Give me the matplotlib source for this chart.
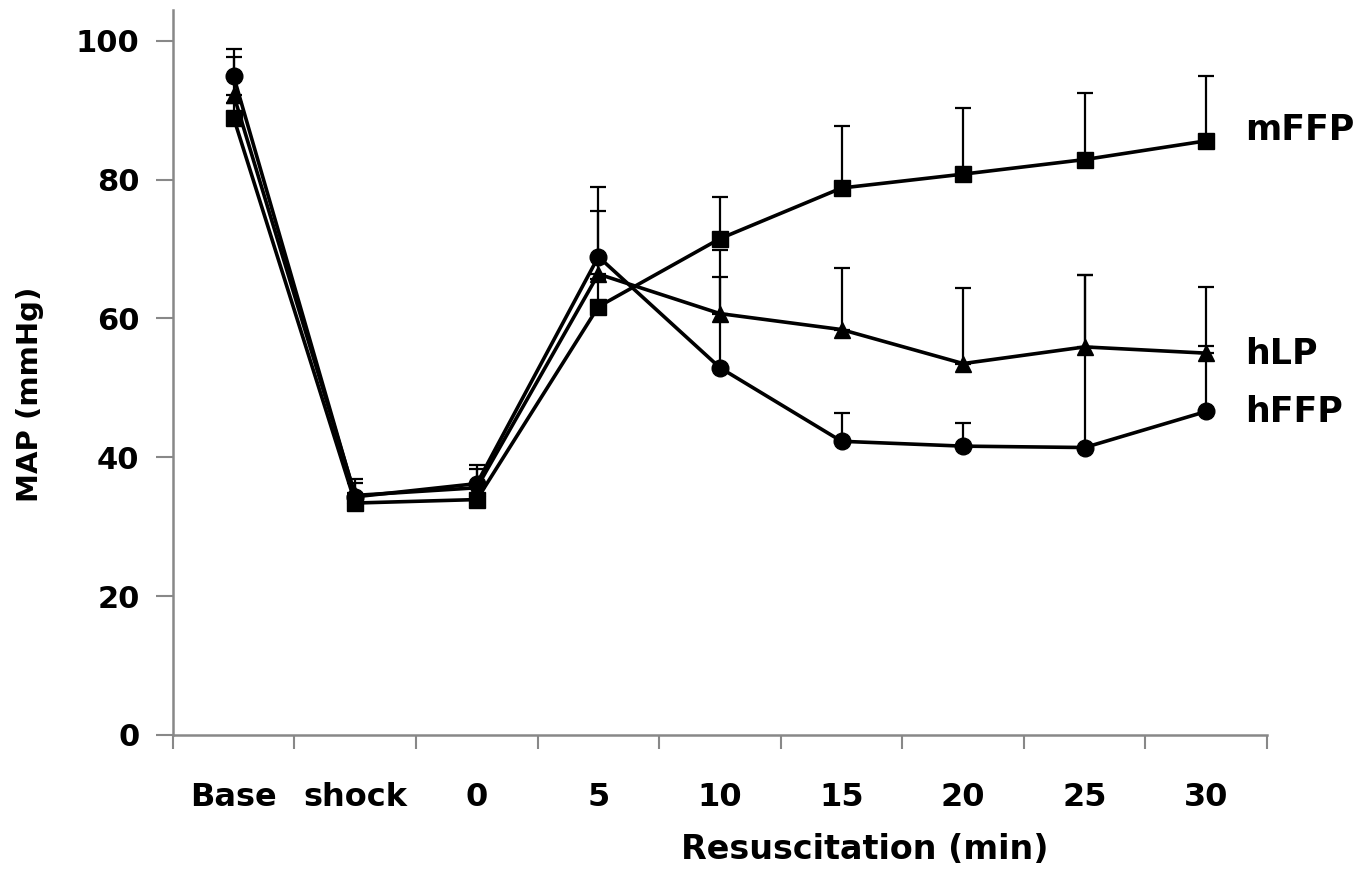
import numpy as np
import matplotlib
matplotlib.use("Agg")
import matplotlib.pyplot as plt

# time points
labels = ["Base", "shock", "0", "5", "10", "15", "20", "25", "30"]

# mean arterial pressure (mmHg)
hFFP = [94.9, 34.3, 36.2, 68.9, 52.9, 42.3, 41.6, 41.4, 46.6]
hLP = [92.2, 34.5, 35.6, 66.4, 60.7, 58.4, 53.5, 55.9, 55.0]
mFFP = [88.9, 33.4, 33.9, 61.7, 71.5, 78.8, 80.8, 82.9, 85.6]

# upper error bars
hFFP_err = [4.0, 2.6, 2.7, 10.0, 13.1, 4.1, 3.4, 24.9, 9.5]
hLP_err = [5.5, 1.8, 2.7, 9.1, 9.2, 8.9, 10.9, 10.4, 9.6]
mFFP_err = [2.1, 1.5, 2.0, 4.0, 6.0, 9.0, 9.6, 9.6, 9.4]

series = [("mFFP", mFFP, mFFP_err, "s", 87.2),
          ("hLP", hLP, hLP_err, "^", 54.9),
          ("hFFP", hFFP, hFFP_err, "o", 46.5)]

plt.rcParams["font.family"] = "DejaVu Sans"
plt.rcParams["font.weight"] = "bold"

fig = plt.figure(figsize=(13.72, 8.8), dpi=100)
ax = fig.add_axes([0.126, 0.165, 0.7975, 0.824])

x = np.arange(len(labels))
for name, vals, err, mk, ty in series:
    ax.errorbar(x, vals, yerr=[np.zeros(len(err)), err], color="black",
                lw=2.6, marker=mk, markersize=12, elinewidth=1.6,
                capsize=6, capthick=1.6, clip_on=False)
    ax.text(8.32, ty, name, fontsize=25, fontweight="bold", va="center", ha="left")

ax.set_xlim(-0.5, 8.5)
ax.set_ylim(0, 104.5)
ax.set_yticks([0, 20, 40, 60, 80, 100])
ax.set_xticks(np.arange(-0.5, 9, 1))
ax.set_xticklabels([])
ax.set_xticks(x, minor=True)
ax.set_xticklabels(labels, minor=True)
ax.tick_params(axis="x", which="minor", length=0, labelsize=23, pad=34)
ax.tick_params(axis="x", which="major", length=10, width=1.5, color="#888888")
ax.tick_params(axis="y", length=12, width=1.5, color="#888888", labelsize=22, pad=12)

for s in ["top", "right"]:
    ax.spines[s].set_visible(False)
for s in ["left", "bottom"]:
    ax.spines[s].set_color("#888888")
    ax.spines[s].set_linewidth(1.8)

ax.set_ylabel("MAP (mmHg)", fontsize=21, fontweight="bold")
ax.yaxis.set_label_coords(-0.118, 0.47)
fig.text(0.63, 0.035, "Resuscitation (min)", fontsize=24, fontweight="bold", ha="center", va="center")

fig.savefig("out.png", dpi=100)
